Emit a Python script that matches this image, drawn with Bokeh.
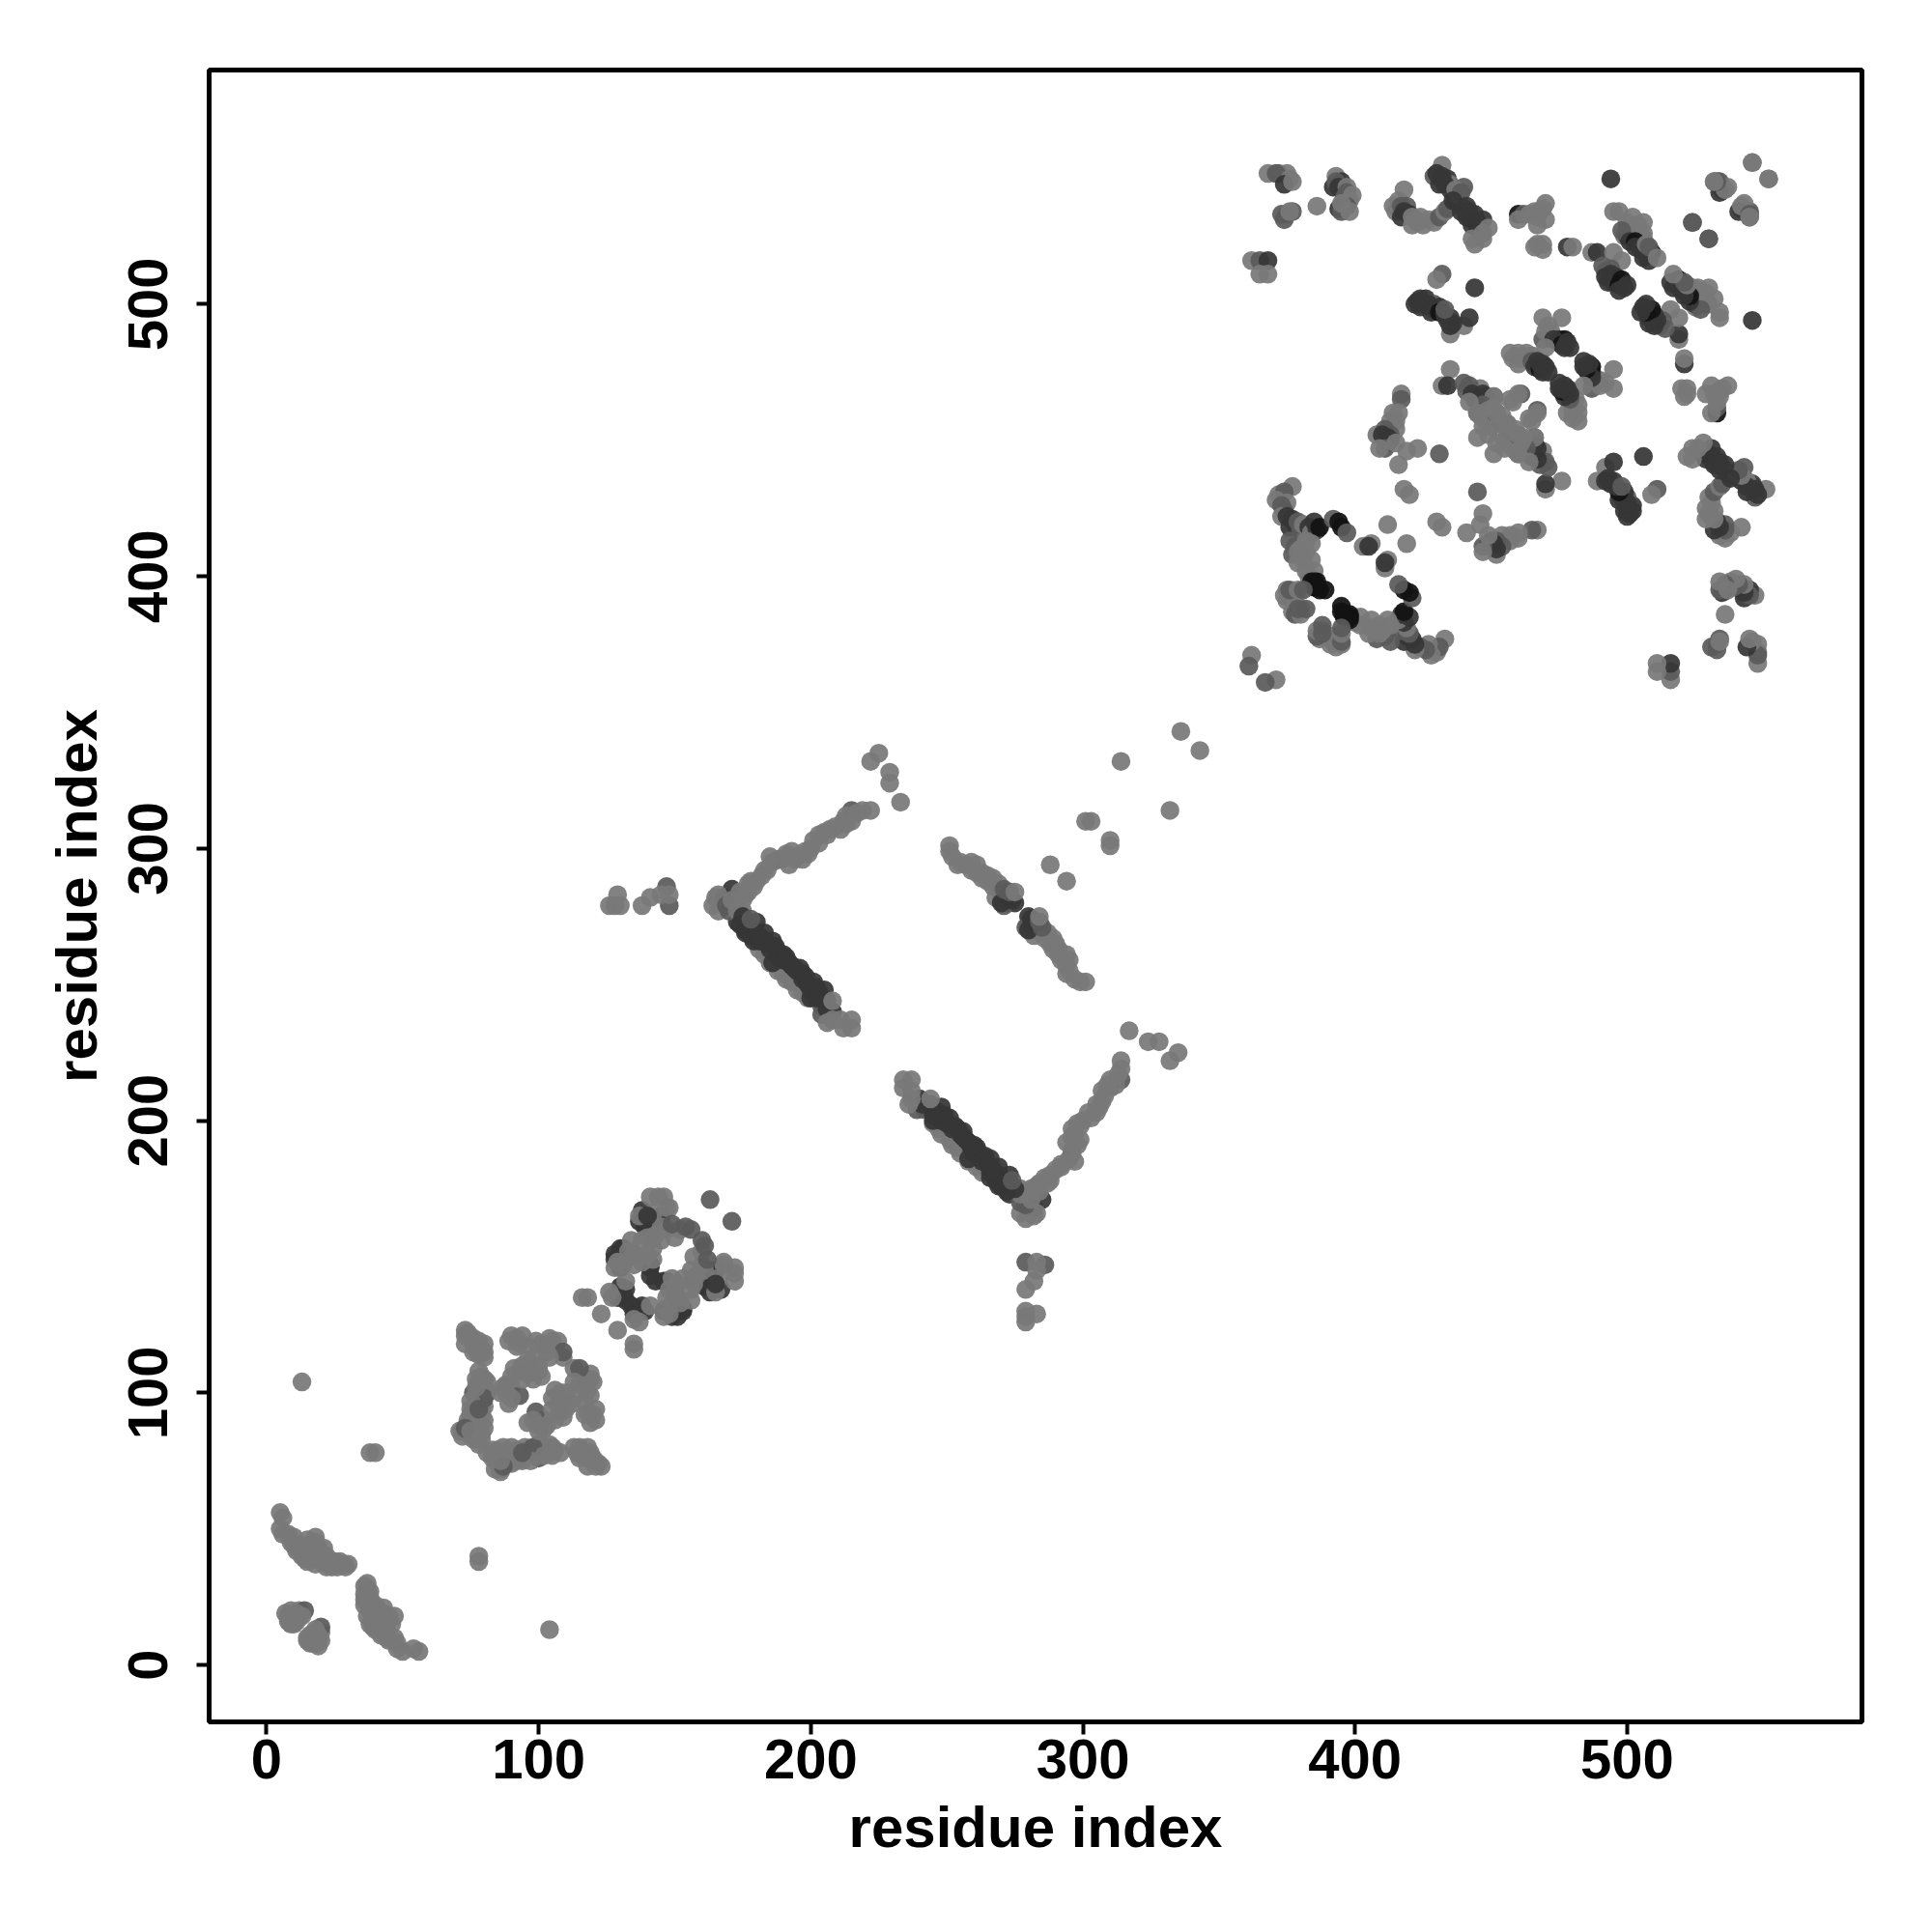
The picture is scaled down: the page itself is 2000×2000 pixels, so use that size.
from bokeh.plotting import figure
from bokeh.models import ColumnDataSource, FixedTicker
from bokeh.embed import file_html
from bokeh.resources import INLINE

# Contacts as (residue i, residue j, shade) with j > i; the map is symmetric.
# shade: 0 = lone contact grey ... 3 = near black
term_band = [(5,56,0),(6,54,0),(5,50,0),(6,48,0),(8,48,0),(10,47,0),(12,44,0),(12,42,0),(13,40,0),(14,42,0),(16,44,0),
             (18,47,0),(18,45,0),(19,43,0),(16,39,0),(18,40,0),(20,41,0),(20,38,0),(22,40,0),(23,37,0),(25,38,0),(26,36,0),
             (28,37,0),(30,37,0),(22,36,0),(24,36,0),(15,41,0),(14,39,0),
             (9,45,0),(10,44,0),(11,42,0),(13,43,0),(15,46,0),(17,43,0),(14,44,0),(16,41,0),(18,37,0),(19,39,0),(21,43,0),
             (21,39,0),(22,38,0),(24,38,0),(27,38,0),(29,36,0),(15,38,0)]
term_near = [(7,19,0),(8,18,0),(8,16,0),(9,20,0),(9,17,0),(10,19,0),(10,15,0),(11,17,0),(12,20,0),(9,15,0),(14,20,1),
             (8,17,0),(10,17,0),(11,16,0),(12,18,0),(11,19,0),(13,18,0)]
lone_low = [(13,104,0),(38,78,0),(40,78,0)]
block_b = [(73,123,0),(73,121,0),(74,122,0),(75,120,0),(76,118,0),(78,119,0),(77,116,0),(79,116,0),(78,114,0),(78,108,0),
           (79,106,0),(80,105,0),(78,104,0),(80,103,0),(79,101,0),(76,100,1),(77,99,0),(78,98,0),(79,96,0),
           (80,95,0),(75,94,0),(77,93,0),(79,92,0),(80,90,0),(75,92,0),(74,90,0),(76,88,0),(78,87,0),(79,85,0),(72,86,0),
           (72,84,0),(74,85,0),(76,83,0),(78,81,0),(71,86,0),
           (80,115,0),(80,113,0),(81,104,0),(81,100,0),(80,98,1),(77,105,0),(77,102,0),(75,97,0),(78,94,1),(80,87,0),(79,83,0),
           (77,83,0),(74,88,0),(73,87,1),(75,86,0),(73,118,0),(76,120,0),(80,118,0),(78,115,0),(76,115,0),
           (92,120,0),(89,119,0),(94,121,0),(96,112,0),(98,113,0),(101,118,0),(103,117,0),(105,119,0),(107,119,0),
           (109,113,0),(109,115,1),(100,108,0),(93,108,0),(98,105,0),(100,110,0),(91,109,0),(88,103,0),(89,96,0),
           (86,100,0),(90,102,0),(104,113,0),(93,99,1),
           (90,121,0),(93,118,0),(92,117,0),(97,117,0),(99,119,0),(103,115,0),(104,120,0),
           (90,106,0),(94,105,0),(87,102,0),(88,100,0),(90,98,0),(96,107,0),(101,106,0),
           (94,110,0)]
block_c = [(138,167,2),(140,163,2),(139,161,2),(143,163,2),(139,164,2),(145,165,2),(131,153,2),(132,149,2),(141,146,2),
           (131,136,2),(142,157,2),(130,153,2),(136,130,0),
           (128,151,2),(130,146,2),(131,150,2),(141,143,2),(141,147,2),(137,163,2),(140,160,2),(142,161,2),(145,163,2),
           (130,139,2),(132,138,2),(132,134,2),(129,135,2),(128,149,2),(130,150,2),
           (141,172,0),(144,172,0),(146,172,0),(148,168,0),(137,165,0),(142,166,0),(145,161,0),(150,157,0),(145,156,0),
           (140,157,0),(134,156,0),(129,148,0),(137,150,0),(142,153,0),(142,149,0),(138,148,0),(132,141,0),(126,137,0),
           (116,135,0),(118,135,0),(123,129,0),(135,151,0),(140,165,2),
           (131,147,0),(135,147,0),(133,152,0),(140,151,0),(147,160,0),(152,160,0),(147,168,0),
           (138,156,0),(143,158,0),(128,146,0),(127,135,0),
           (149,162,1),(154,161,1),(156,160,1),(163,171,1)]
v_upper = [(126,279,0),(129,283,0),(130,279,0),(128,279,0),(138,279,0),(141,282,0),(148,279,1),(147,286,1),(145,283,0),(148,283,0),
           (173,273,2),(172,279,0),(165,282,0),(164,279,0),(168,282,1),(171,285,2),(175,281,0),(174,284,0),(177,287,0),
           (179,286,0),(182,290,0),(186,295,0),(189,296,1),(193,299,0),(194,296,0),(197,296,0),(200,300,0),(201,303,0),
           (205,306,0),(207,307,0),(211,307,0),(212,310,0),(215,310,0),(215,314,1),(219,314,0),(222,314,0),
           (222,332,0),(225,335,0),(229,328,0),(229,324,0),(233,317,0),
           (166,277,0),(166,283,0),(169,279,1),(170,277,1),(171,281,0),(173,277,0),(175,277,0),(176,283,0),(177,284,0),
           (178,288,0),(180,288,0),(183,292,0),(184,292,0),(185,297,0),(188,296,0),(191,298,0),(192,294,0),(195,297,0),
           (198,299,0),(199,298,0),(203,302,0),(203,305,0),(206,305,0),(209,308,0),(213,312,0),(213,309,0),(217,313,0)]
v_lower = [(183,261,0),(190,254,0),(193,251,0),(197,247,0),(181,263,0),(185,258,0),(188,255,0),(191,252,0),(195,248,0),(199,245,0),
           (177,273,2),(180,273,2),(176,269,2),(179,266,2),(183,269,2),(186,266,2),(190,261,2),(186,258,2),(193,257,2),
           (197,254,2),(201,251,2),(200,245,2),(205,248,2),(204,242,1),(208,240,2),(204,239,1),
           (174,272,2),(176,270,2),(178,271,2),(178,268,2),(180,269,2),(181,266,2),(182,267,2),(184,265,2),(185,263,2),
           (187,264,2),(188,262,2),(188,260,2),(190,259,2),(191,260,2),(192,258,2),(194,256,2),(195,255,2),(196,256,2),
           (197,252,2),(198,253,2),(199,250,2),(200,248,2),(202,249,2),(203,247,2),(202,245,2),(204,245,2),(206,244,2),(206,241,2),
           (175,275,2),(178,274,1),
           (208,244,0),(208,237,0),(206,236,0),(211,237,0),(215,237,0),(212,234,0),(215,234,0)]
sheet_e = [(251,301,0),(251,299,0),(254,294,0),(257,294,0),(261,294,0),(261,291,0),(265,290,0),
           (265,288,0),(269,287,0),(268,282,0),(252,297,0),(255,295,0),(259,292,0),(259,295,0),(263,291,0),(263,289,0),
           (267,289,0),(267,286,0),(270,284,0),(270,282,0),
           (272,280,2),(275,280,2),(271,279,1),(270,280,2),(273,282,2),(274,281,2),(271,285,1),(273,284,1),(275,284,0)]
lone_mid = [(336,343,0),(314,332,0),(301,310,0),(303,310,0),(288,294,0),(362,371,0),(361,367,1)]
block_f1 = [(368,548,0),(372,548,0),(375,548,0),(371,548,1),(376,546,0),(374,544,2),(377,545,0),(375,533,0),(374,531,1),(373,533,1),(377,534,1),(376,534,0),(386,536,0),
            (393,547,0),(392,543,2),(395,545,2),(393,545,1),(394,543,2),(396,541,2),(397,543,0),(397,541,1),(396,539,1),(398,538,0),(399,540,0),(394,535,2),(395,534,1),(397,536,1),(398,534,0),(395,537,0),
            (362,516,0),(365,516,1),(368,516,2),(365,511,0),(368,511,0)]
block_f2 = [(418,542,0),(414,536,0),(416,538,0),(415,534,0),(417,536,1),(419,536,1),(417,532,2),(418,534,2),(420,533,2),(422,531,1),(421,532,0),(423,530,0),(424,532,0),(421,529,0),(425,529,0),(427,531,0),(429,530,0),(431,532,1),(433,534,0),
            (434,535,1),(432,551,0),(429,547,1),(434,546,2),(431,544,2),(435,544,0),(430,548,2),(432,547,2),(433,544,2),(435,542,2),(437,539,2),(438,537,2),(440,535,2),(442,534,2),(442,532,2),(445,530,3),(441,532,2),(443,531,2),(445,528,3),
            (440,543,1),(437,542,0),(438,540,0),(439,541,1),(436,538,2),(439,534,2),
            (441,536,2),(444,533,2),(447,531,2),(443,529,2),(446,527,2),(449,528,0),(444,522,0),(447,524,0),(447,526,0),(443,524,0),
            (444,506,2),(432,511,1),(430,509,0),(432,497,0),(435,489,0),(440,492,0),(422,500,2),(426,502,2),(424,499,2),(429,500,1),(431,499,2),
            (428,497,2),(435,495,2),(435,492,2),(442,495,2),(423,501,2),(425,500,2),(427,500,2),(429,498,2),(431,497,3),(433,496,2),(434,494,2),(436,493,2),(433,498,1),(424,502,2)]
block_f3 = [(460,533,3),(462,533,1),(460,531,0),(470,537,0),(468,534,0),(467,532,0),(469,535,0),(466,534,0),(470,531,0),(467,529,0),(464,533,0),(467,522,0),(469,520,0),(469,522,0),(466,521,0),
            (478,521,2),(480,521,0),(487,519,0),(489,519,2),(495,519,0),(498,516,0),(492,512,0),(491,514,1),(494,513,1),(494,511,2),(492,510,2),(496,510,2),(495,508,2),(493,508,2),(498,509,3),(497,507,3),(499,506,2),
            (497,505,2),(500,507,2),(495,534,0),(497,534,0),(500,530,0),(502,532,0),(504,529,0),(499,525,0),(500,525,2),(506,530,0),(506,526,0),(506,524,0),(502,526,0),(500,528,0),(498,527,1),(501,523,2),(503,523,3),(505,520,2),(503,521,2),(506,521,2),
            (509,519,3),(507,518,2),(506,517,2),(508,516,2),(507,522,0),(508,521,1),(511,517,0),(494,546,2),(546,552,0),(532,545,1),(534,545,1),(535,542,2),(537,543,0),
            (524,530,1),(530,524,1),(541,534,2),(542,536,0),(545,533,1),(545,532,0),(552,546,0)]
block_f4 = [(469,495,0),(476,495,0),(471,492,0),(469,487,1),(472,490,0),(470,490,0),(475,487,2),(477,487,3),(473,487,2),(476,485,3),(478,486,2),(477,484,2),(479,484,2),(470,484,0),
            (457,482,0),(460,482,0),(463,482,0),(458,480,0),(461,480,0),(465,481,0),(460,478,0),(465,479,1),(466,477,2),(467,479,2),(469,478,2),(468,476,3),(469,475,2),(470,477,2),(471,475,2),(468,478,2),
            (461,467,1),(458,464,0),(467,460,0),(465,457,0),(459,452,0),(461,450,0),(455,450,0),(457,450,0),(461,447,0),(463,449,0),(460,445,1),(466,451,1),(466,448,2),(464,447,2),(469,446,0),
            (435,476,0),(432,470,0),(434,470,2),(440,471,1),(442,470,1),(441,468,1),(443,467,2),(444,465,2),(446,465,2),(447,467,2),(448,466,2),(451,466,0),(447,463,1),(449,461,0),(442,464,0),(445,460,0),(446,459,0),(449,459,0),(448,457,0),
            (452,457,1),(452,460,0),(454,459,0),(456,456,0),(451,462,0),(445,451,0),(449,452,0),(453,456,0),(447,455,0)]
block_f5 = [(417,467,0),(417,465,1),(416,460,0),(414,460,0),(415,457,0),(413,457,0),(415,454,0),(408,452,0),(411,454,1),(413,452,1),(410,452,2),(412,451,2),(412,449,2),(413,450,2),(411,447,1),(415,449,0),(409,447,0),(419,446,0),
            (423,447,0),(431,445,1),(418,432,0),(420,430,0),(416,441,0),(412,419,0),(406,412,0),(403,411,0),(405,411,2)]
block_f6 = [(377,433,0),(372,430,0),(374,431,1),(371,428,0),(375,427,0),(373,426,1),(374,424,1),(373,422,0),(375,422,2),(377,421,2),(376,418,2),(378,419,2),(379,420,1),(380,417,1),(381,419,0),(383,418,2),(384,416,0),(385,420,2),(386,417,2),(387,418,3),
            (392,421,1),(394,420,3),(395,418,3),(397,416,1),(376,413,1),(378,411,1),(377,408,1),(379,409,0),(380,410,0),(382,413,0),(382,409,0),(384,412,0),(379,405,0),(381,406,0),(384,406,0),(382,402,0),(385,402,0),(383,400,0),
            (386,398,3),(385,398,3),(384,398,3),(385,396,3),(386,396,3),(387,395,3),(389,395,3),
            (374,393,0),(376,392,1),(378,392,0),(375,391,0),(375,395,0),(376,395,1),(379,395,0),(381,395,1),(377,387,0),(378,386,1),(380,386,0),(380,388,0),(379,388,1),(382,388,1)]

CLUSTERS = [term_band, term_near, lone_low, block_b, block_c, v_upper, v_lower, sheet_e, lone_mid,
            block_f1, block_f2, block_f3, block_f4, block_f5, block_f6]
SHADES = ["#797979", "#5a5a5a", "#363636", "#121212"]
TICKS = [0, 100, 200, 300, 400, 500]
FONT = "Liberation Sans"

xs, ys, cols = [], [], []
for cluster in CLUSTERS:
    for i, j, s in cluster:
        xs += [i, j]
        ys += [j, i]
        cols += [SHADES[s], SHADES[s]]

p = figure(frame_width=1711, frame_height=1710, x_range=(-21.1, 586.3), y_range=(-20.9, 586.0),
           min_border_left=216, min_border_top=72, min_border_right=40, min_border_bottom=190,
           toolbar_location=None, output_backend="svg", background_fill_color="white")
p.grid.visible = False
p.outline_line_color = "black"
p.outline_line_width = 5

src = ColumnDataSource(dict(x=xs, y=ys, c=cols))
p.scatter("x", "y", source=src, size=19.5, marker="circle", fill_color="c", fill_alpha=0.93, line_color=None)

for ax, lab in ((p.xaxis[0], "residue index"), (p.yaxis[0], "residue index")):
    ax.ticker = FixedTicker(ticks=TICKS)
    ax.axis_label = lab
    ax.axis_label_text_font = FONT
    ax.axis_label_text_font_style = "bold"
    ax.axis_label_text_font_size = "60px"
    ax.axis_label_text_color = "black"
    ax.major_label_text_font = FONT
    ax.major_label_text_font_style = "bold"
    ax.major_label_text_font_size = "58px"
    ax.major_label_text_color = "black"
    ax.axis_line_color = None
    ax.major_tick_line_color = "black"
    ax.major_tick_line_width = 4
    ax.major_tick_out = 13
    ax.major_tick_in = 0
    ax.minor_tick_line_color = None
p.yaxis[0].major_label_orientation = "parallel"
p.yaxis[0].major_label_standoff = 30
p.xaxis[0].axis_label_standoff = 14
p.yaxis[0].axis_label_standoff = 18

open("out.html", "w").write(file_html(p, INLINE))
